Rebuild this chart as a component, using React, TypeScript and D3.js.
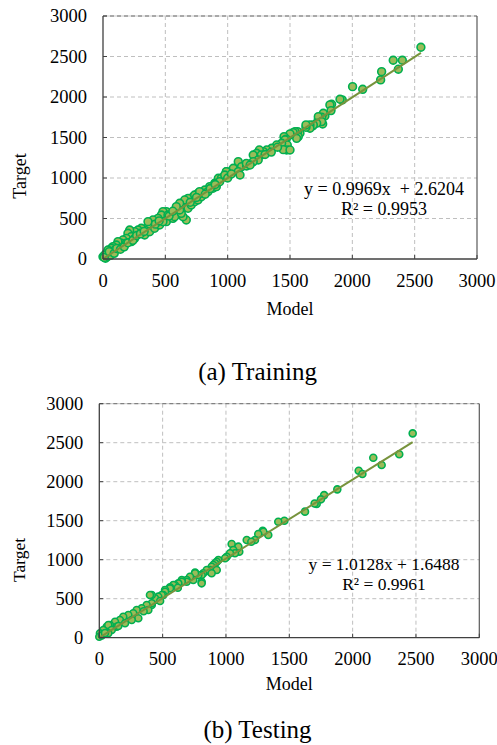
import * as d3 from 'd3'

// values
const trainModel = [2550, 2328, 2401, 2369, 2235, 2227, 2002, 2083, 1919, 1901, 1834, 1820, 1829, 1780, 1767, 1754, 1727, 1727, 1762, 1754, 1714, 1682, 1687, 1660, 1660, 1628, 1628, 1580, 1561, 1540, 1526, 1566, 1553, 1500, 1500, 1452, 1470, 1460, 1478, 1433, 1393, 1473, 1446, 1500, 1353, 1313, 1286, 1254, 1232, 1205, 1270, 1245, 1205, 1085, 1112, 1152, 1045, 1085, 1099, 992, 978, 925, 989, 949, 896, 856, 816, 762, 722, 682, 695, 655, 628, 668, 642, 602, 588, 561, 508, 481, 468, 521, 508, 441, 401, 388, 361, 361, 334, 307, 281, 294, 254, 214, 200, 227, 187, 160, 147, 120, 107, 80, 67, 40, 27, 0, 254, 227, 187, 134, 94, 54, 13, 334, 374, 414, 454, 481, 561, 575, 521, 628, 615, 682, 708, 735, 762, 789, 802, 842, 882, 909, 936, 976, 735, 775, 655, 615, 588, 20, 35, 60, 10, 50, 90, 110, 140, 170, 200, 240, 270, 300, 330, 420, 450, 530, 560, 700, 750, 820, 860, 900, 1000, 1030, 1150, 1180, 1300, 1350, 1400]
const trainTarget = [2614, 2454, 2454, 2343, 2313, 2211, 2128, 2095, 1964, 1972, 1910, 1902, 1832, 1766, 1799, 1750, 1725, 1757, 1667, 1696, 1676, 1643, 1655, 1655, 1614, 1626, 1655, 1552, 1572, 1572, 1560, 1510, 1490, 1531, 1544, 1510, 1480, 1470, 1408, 1429, 1408, 1346, 1350, 1346, 1367, 1346, 1325, 1346, 1305, 1284, 1285, 1223, 1202, 1202, 1140, 1149, 1120, 1078, 1037, 1078, 1037, 997, 1078, 997, 935, 893, 852, 811, 769, 749, 688, 646, 667, 482, 522, 626, 584, 564, 584, 584, 543, 502, 461, 502, 482, 420, 399, 461, 358, 379, 358, 317, 337, 358, 317, 276, 255, 235, 194, 214, 173, 152, 132, 111, 70, 28, 255, 214, 194, 132, 111, 70, 49, 296, 337, 379, 420, 461, 502, 522, 543, 564, 605, 626, 667, 708, 729, 769, 811, 831, 873, 893, 955, 1037, 790, 831, 729, 688, 646, 10, 30, 45, 20, 90, 70, 130, 120, 150, 200, 230, 290, 310, 340, 430, 470, 530, 590, 700, 760, 800, 870, 920, 1000, 1050, 1180, 1160, 1290, 1320, 1380]

const testModel = [2474, 2368, 2163, 2229, 2048, 2077, 1879, 1775, 1750, 1716, 1700, 1624, 1461, 1413, 1290, 1334, 1295, 1255, 1229, 1164, 1105, 1090, 1045, 1098, 1058, 1071, 1032, 1006, 993, 940, 927, 914, 900, 887, 874, 874, 927, 848, 887, 821, 808, 782, 756, 756, 742, 808, 808, 716, 690, 690, 651, 651, 624, 597, 584, 558, 558, 519, 519, 505, 493, 466, 440, 440, 414, 400, 414, 414, 374, 387, 335, 295, 268, 229, 189, 163, 124, 84, 58, 32, 5, 0, 71, 308, 256, 203, 137, 98, 71, 20, 45, 150, 350, 480, 620, 1200]
const testTarget = [2620, 2351, 2308, 2214, 2141, 2099, 1902, 1828, 1774, 1714, 1720, 1616, 1500, 1487, 1372, 1317, 1359, 1329, 1253, 1253, 1103, 1146, 1201, 1167, 1124, 1082, 1082, 1038, 1018, 996, 974, 954, 932, 910, 846, 868, 868, 868, 826, 826, 804, 804, 834, 826, 740, 718, 697, 782, 740, 718, 740, 718, 697, 676, 676, 646, 633, 612, 590, 547, 547, 526, 483, 505, 547, 547, 419, 441, 419, 355, 377, 355, 313, 291, 269, 227, 205, 163, 141, 99, 56, 13, 163, 249, 227, 185, 141, 99, 56, 30, 60, 150, 340, 470, 640, 1230]

const ticks = [0, 500, 1000, 1500, 2000, 2500, 3000]

const trainFit = { slope: 0.9969, intercept: 2.6204, eq: 'y = 0.9969x  + 2.6204', r2: 'R² = 0.9953' }
const testFit = { slope: 1.0128, intercept: 1.6488, eq: 'y = 1.0128x + 1.6488', r2: 'R² = 0.9961' }

const FONT = '"Liberation Serif", "Times New Roman", serif'

function Panel({ model, target, fit, box, r, labelSize, eqX, eqY, tickDy, modelY, targetX, targetY, yLabelGap }) {
  const x = d3.scaleLinear().domain([0, 3000]).range([box.left, box.right])
  const y = d3.scaleLinear().domain([0, 3000]).range([box.bottom, box.top])
  const pts = model.map((m, i) => ({ m, t: target[i] }))
  const [xmin, xmax] = d3.extent(model)
  const line = d3.line<number>()
    .x(d => x(d))
    .y(d => y(fit.slope * d + fit.intercept))

  return (
    <g fontFamily={FONT} fill="#000">
      {ticks.slice(1, -1).map(t => (
        <g key={'g' + t}>
          <line x1={x(t)} x2={x(t)} y1={box.top} y2={box.bottom} stroke="#bfbfbf" strokeDasharray="4,3" />
          <line x1={box.left} x2={box.right} y1={y(t)} y2={y(t)} stroke="#bfbfbf" strokeDasharray="4,3" />
        </g>
      ))}
      <line x1={box.left} x2={box.right} y1={box.top} y2={box.top} stroke="#c8c8c8" />
      <line x1={box.left} x2={box.right} y1={box.top} y2={box.top} stroke="#6e6e6e" strokeDasharray="4,3" />
      <line x1={box.right} x2={box.right} y1={box.top} y2={box.bottom} stroke="#595959" strokeWidth={1.2} />

      {pts.map((p, i) => (
        <circle key={i} cx={x(p.m)} cy={y(p.t)} r={r} fill="#9bbb59" stroke="#00b050" strokeWidth={1.6} />
      ))}
      <path d={line([xmin, xmax]) || ''} fill="none" stroke="#77933c" strokeWidth={2} />

      <line x1={box.left} x2={box.left} y1={box.top} y2={box.bottom} stroke="#404040" strokeWidth={1.3} />
      <line x1={box.left} x2={box.right} y1={box.bottom} y2={box.bottom} stroke="#404040" strokeWidth={1.3} />
      {ticks.map(t => (
        <g key={'t' + t}>
          <line x1={box.left} x2={box.left + 4} y1={y(t)} y2={y(t)} stroke="#404040" />
          <line x1={x(t)} x2={x(t)} y1={box.bottom} y2={box.bottom - 4} stroke="#404040" />
          <text x={box.left - yLabelGap} y={y(t)} dy="0.35em" textAnchor="end" fontSize={18.5}>{t}</text>
          <text x={x(t)} y={box.bottom + tickDy} textAnchor="middle" fontSize={18.5}>{t}</text>
        </g>
      ))}
      <text x={(box.left + box.right) / 2} y={modelY} textAnchor="middle" fontSize={18}>Model</text>
      <text transform={`translate(${targetX},${targetY}) rotate(-90)`} textAnchor="middle" dy="0.35em" fontSize={labelSize}>Target</text>
      <text x={eqX} y={eqY} textAnchor="middle" fontSize={labelSize} style={{ whiteSpace: 'pre' }}>{fit.eq}</text>
      <text x={eqX} y={eqY + 20} textAnchor="middle" fontSize={labelSize}>{fit.r2}</text>
    </g>
  )
}

export default function App() {
  return (
    <svg width={497} height={745} style={{ position: 'absolute', left: 0, top: 0, background: '#fff' }}>
      <Panel model={trainModel} target={trainTarget} fit={trainFit}
        box={{ left: 103, right: 477, top: 16, bottom: 259 }} r={3.9} labelSize={18}
        eqX={384} eqY={195} tickDy={28} modelY={315} targetX={19.5} targetY={176} yLabelGap={16} />
      <text x={257.5} y={380} textAnchor="middle" fontSize={25} fontFamily={FONT}>(a) Training</text>
      <Panel model={testModel} target={testTarget} fit={testFit}
        box={{ left: 99.3, right: 479.3, top: 403.7, bottom: 637.7 }} r={3.5} labelSize={17.5}
        eqX={384} eqY={570} tickDy={27} modelY={690} targetX={19} targetY={560} yLabelGap={16} />
      <text x={257.5} y={738} textAnchor="middle" fontSize={25} fontFamily={FONT}>(b) Testing</text>
    </svg>
  )
}
